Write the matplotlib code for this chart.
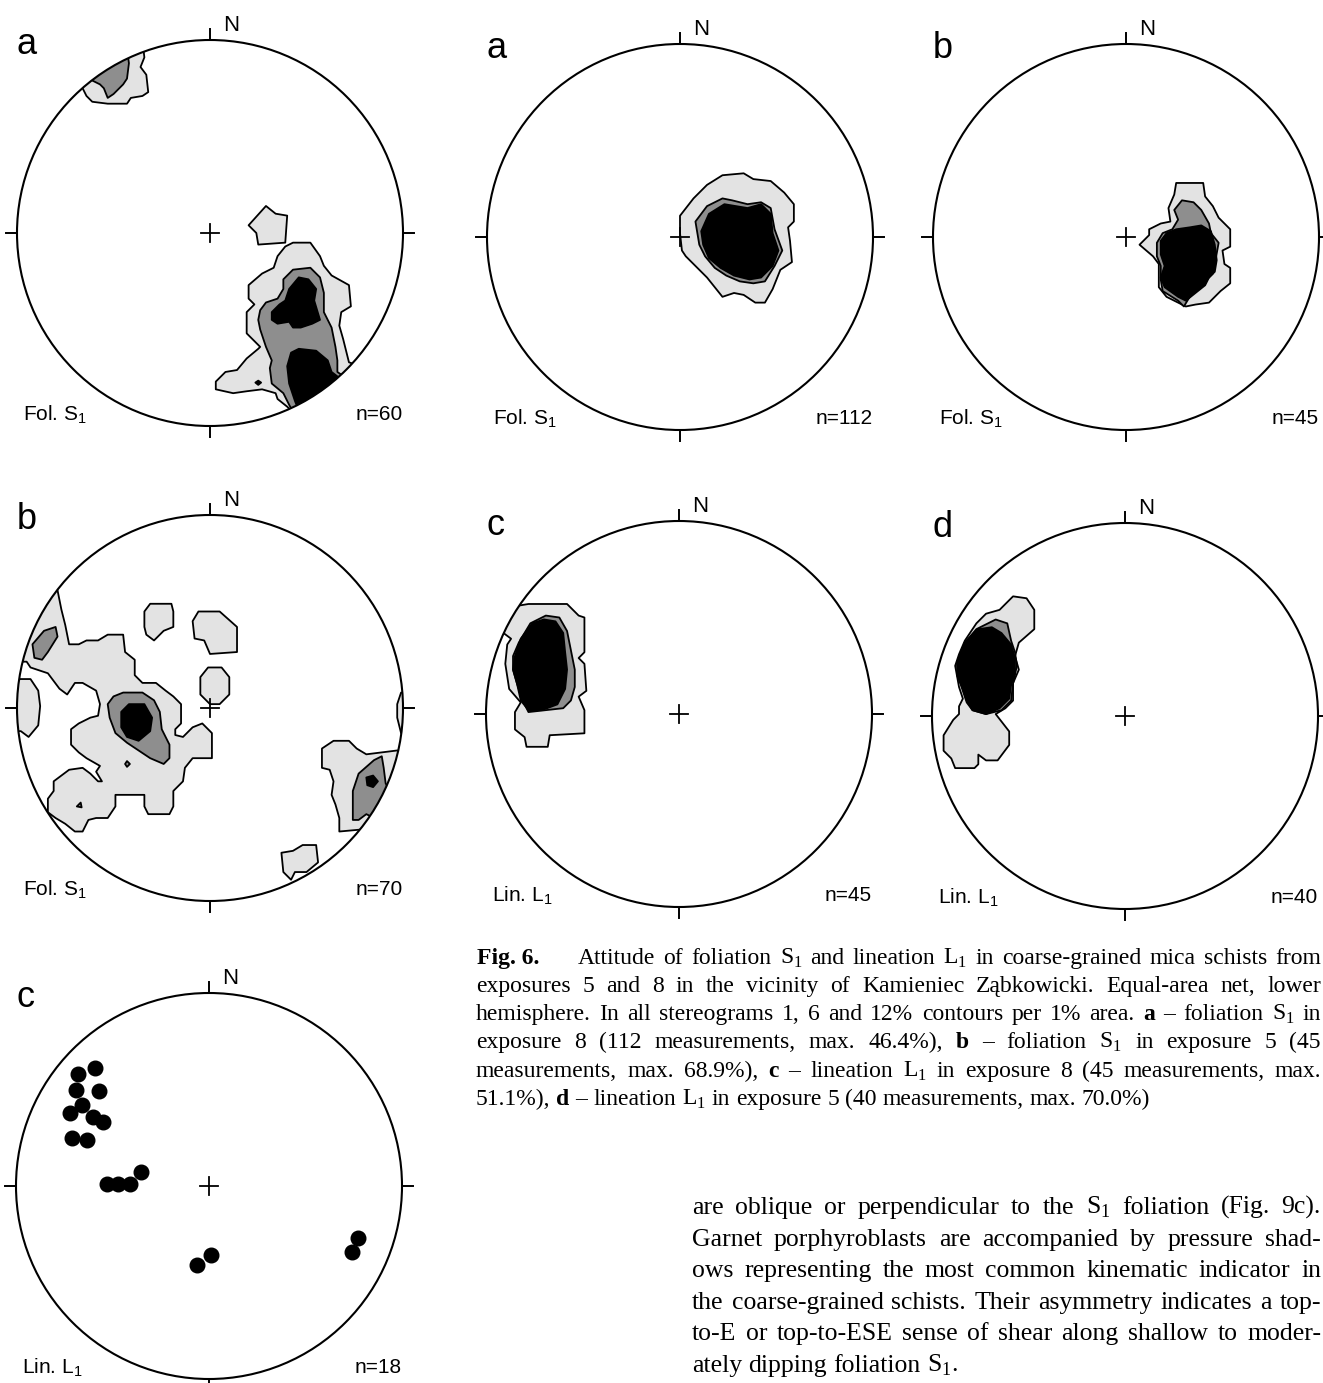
import matplotlib
matplotlib.use("Agg")
import matplotlib.pyplot as plt
from matplotlib.patches import Polygon, Circle

plt.rcParams['font.family'] = ['Liberation Sans', 'DejaVu Sans']
plt.rcParams['mathtext.fontset'] = 'custom'
plt.rcParams['mathtext.rm'] = 'Liberation Serif'
plt.rcParams['mathtext.sf'] = 'Liberation Sans'
plt.rcParams['mathtext.bf'] = 'Liberation Serif:bold'

# ---------------- data (equal-area net coordinates, unit radius; x = East, y = North) -------------
PANEL_LETTERS = ['a', 'a', 'b', 'b', 'c', 'd', 'c']
PANEL_TYPES = ['Fol. S', 'Fol. S', 'Fol. S', 'Fol. S', 'Lin. L', 'Lin. L', 'Lin. L']
PANEL_N = [60, 112, 45, 70, 45, 40, 18]

# Net 1 (Fol. S1, n=60)
N1_LIGHT = [
    [(-0.66, 0.75), (-0.64, 0.71), (-0.61, 0.68), (-0.53, 0.67), (-0.43, 0.67), (-0.41, 0.70), (-0.35, 0.71),
     (-0.32, 0.73), (-0.33, 0.82), (-0.36, 0.86), (-0.34, 0.91), (-0.36, 1.08), (-0.78, 0.86)],
    [(0.20, 0.04), (0.29, 0.14), (0.34, 0.10), (0.40, 0.09), (0.39, -0.05), (0.25, -0.06), (0.24, 0.00)],
    [(0.35, -0.12), (0.39, -0.07), (0.43, -0.05), (0.52, -0.05), (0.57, -0.12), (0.59, -0.17), (0.63, -0.22),
     (0.72, -0.27), (0.73, -0.38), (0.68, -0.41), (0.67, -0.48), (0.69, -0.55), (0.72, -0.67), (0.95, -0.75),
     (0.55, -1.05), (0.40, -0.90), (0.35, -0.86), (0.34, -0.83), (0.27, -0.81), (0.19, -0.82), (0.12, -0.83),
     (0.03, -0.81), (0.03, -0.77), (0.08, -0.72), (0.14, -0.71), (0.19, -0.65), (0.25, -0.60), (0.26, -0.59),
     (0.19, -0.52), (0.19, -0.41), (0.23, -0.37), (0.20, -0.34), (0.20, -0.27), (0.27, -0.21), (0.33, -0.18)],
]
N1_MID = [
    [(-0.61, 0.79), (-0.57, 0.77), (-0.55, 0.75), (-0.53, 0.70), (-0.50, 0.72), (-0.45, 0.77), (-0.43, 0.80),
     (-0.42, 0.88), (-0.44, 1.02), (-0.74, 0.86)],
    [(0.38, -0.24), (0.43, -0.19), (0.52, -0.18), (0.57, -0.23), (0.59, -0.31), (0.59, -0.41), (0.63, -0.49),
     (0.65, -0.59), (0.66, -0.66), (0.66, -0.72), (0.85, -0.85), (0.50, -1.05), (0.41, -0.89), (0.38, -0.83),
     (0.32, -0.78), (0.31, -0.70), (0.32, -0.66), (0.29, -0.59), (0.26, -0.50), (0.25, -0.45), (0.26, -0.40),
     (0.29, -0.36), (0.35, -0.34), (0.38, -0.29)],
]
N1_DARK = [
    [(0.41, -0.29), (0.46, -0.23), (0.51, -0.24), (0.55, -0.29), (0.54, -0.35), (0.57, -0.45), (0.53, -0.47),
     (0.47, -0.49), (0.43, -0.49), (0.41, -0.46), (0.35, -0.47), (0.32, -0.45), (0.32, -0.41), (0.36, -0.37),
     (0.39, -0.35)],
    [(0.42, -0.62), (0.46, -0.60), (0.55, -0.61), (0.61, -0.66), (0.63, -0.72), (0.80, -0.85), (0.50, -1.02),
     (0.44, -0.87), (0.41, -0.78), (0.40, -0.69)],
    [(0.235, -0.775), (0.25, -0.765), (0.265, -0.775), (0.25, -0.787)],
]

# Net 2 (Fol. S1, n=112)
N2_LIGHT = [
    [(0.00, 0.11), (0.07, 0.20), (0.14, 0.27), (0.22, 0.32), (0.33, 0.33), (0.38, 0.30), (0.47, 0.29),
     (0.54, 0.23), (0.59, 0.17), (0.59, 0.08), (0.56, 0.05), (0.57, -0.02), (0.58, -0.13), (0.52, -0.17),
     (0.48, -0.27), (0.44, -0.34), (0.39, -0.34), (0.33, -0.30), (0.28, -0.29), (0.22, -0.31), (0.14, -0.21),
     (0.09, -0.16), (0.03, -0.10), (0.01, -0.07), (0.00, 0.02)],
]
N2_MID = [
    [(0.08, 0.08), (0.14, 0.16), (0.22, 0.20), (0.27, 0.19), (0.35, 0.17), (0.42, 0.18), (0.47, 0.15),
     (0.49, 0.04), (0.53, -0.07), (0.49, -0.15), (0.44, -0.23), (0.38, -0.24), (0.31, -0.23), (0.24, -0.20),
     (0.18, -0.16), (0.13, -0.10), (0.10, -0.04), (0.09, 0.02)],
]
N2_DARK = [
    [(0.15, 0.12), (0.23, 0.17), (0.35, 0.15), (0.42, 0.17), (0.47, 0.12), (0.48, 0.02), (0.51, -0.07),
     (0.48, -0.15), (0.42, -0.21), (0.36, -0.22), (0.28, -0.20), (0.21, -0.16), (0.15, -0.11), (0.12, -0.04),
     (0.11, 0.03)],
]

# Net 3 (Fol. S1, n=45)
N3_LIGHT = [
    [(0.07, -0.04), (0.12, 0.01), (0.12, 0.04), (0.18, 0.07), (0.23, 0.08), (0.22, 0.15), (0.25, 0.22),
     (0.26, 0.28), (0.40, 0.28), (0.41, 0.21), (0.45, 0.16), (0.48, 0.10), (0.54, 0.04), (0.54, -0.05),
     (0.50, -0.07), (0.51, -0.14), (0.54, -0.16), (0.54, -0.24), (0.49, -0.28), (0.43, -0.34), (0.36, -0.35),
     (0.31, -0.36), (0.21, -0.31), (0.17, -0.26), (0.17, -0.14), (0.14, -0.10)],
]
N3_MID = [
    [(0.25, 0.14), (0.29, 0.19), (0.35, 0.18), (0.39, 0.14), (0.43, 0.07), (0.44, 0.02), (0.48, -0.03),
     (0.46, -0.14), (0.45, -0.19), (0.38, -0.26), (0.33, -0.31), (0.30, -0.36), (0.27, -0.33), (0.19, -0.28),
     (0.18, -0.22), (0.18, -0.15), (0.16, -0.10), (0.16, -0.03), (0.19, 0.02), (0.24, 0.04), (0.27, 0.09)],
]
N3_DARK = [
    [(0.18, -0.02), (0.21, 0.02), (0.26, 0.04), (0.33, 0.05), (0.39, 0.06), (0.44, 0.03), (0.46, -0.04),
     (0.47, -0.12), (0.46, -0.18), (0.43, -0.21), (0.41, -0.25), (0.36, -0.29), (0.31, -0.33), (0.27, -0.31),
     (0.20, -0.26), (0.18, -0.21), (0.20, -0.15), (0.18, -0.09)],
]

# Net 4 (Fol. S1, n=70)
N4_LIGHT = [
    [(-0.79, 0.61), (-0.77, 0.51), (-0.75, 0.43), (-0.73, 0.33), (-0.68, 0.33), (-0.64, 0.35), (-0.58, 0.35),
     (-0.53, 0.38), (-0.45, 0.38), (-0.44, 0.29), (-0.39, 0.25), (-0.39, 0.17), (-0.35, 0.13), (-0.28, 0.13),
     (-0.23, 0.09), (-0.19, 0.06), (-0.15, 0.02), (-0.15, -0.08), (-0.18, -0.11), (-0.18, -0.14), (-0.14, -0.15),
     (-0.09, -0.10), (-0.04, -0.08), (0.01, -0.13), (0.01, -0.26), (-0.09, -0.26), (-0.13, -0.31), (-0.14, -0.38),
     (-0.19, -0.43), (-0.19, -0.51), (-0.21, -0.55), (-0.32, -0.55), (-0.34, -0.51), (-0.34, -0.45), (-0.40, -0.45),
     (-0.49, -0.45), (-0.49, -0.51), (-0.53, -0.57), (-0.59, -0.57), (-0.63, -0.58), (-0.66, -0.64), (-0.70, -0.64),
     (-0.75, -0.60), (-0.80, -0.57), (-0.84, -0.54), (-0.84, -0.47), (-0.81, -0.43), (-0.81, -0.38), (-0.73, -0.32),
     (-0.66, -0.31), (-0.62, -0.34), (-0.58, -0.38), (-0.56, -0.38), (-0.59, -0.33), (-0.57, -0.30), (-0.64, -0.26),
     (-0.68, -0.23), (-0.72, -0.19), (-0.72, -0.11), (-0.68, -0.08), (-0.62, -0.05), (-0.58, -0.04), (-0.57, 0.02),
     (-0.59, 0.09), (-0.66, 0.13), (-0.70, 0.13), (-0.74, 0.07), (-0.78, 0.10), (-0.84, 0.18), (-0.87, 0.19),
     (-0.93, 0.21), (-0.95, 0.24), (-1.10, 0.24), (-1.05, 0.70), (-0.85, 0.68)],
    [(-0.97, 0.15), (-0.93, 0.15), (-0.89, 0.09), (-0.88, 0.01), (-0.89, -0.09), (-0.94, -0.15), (-0.98, -0.12),
     (-1.10, -0.12), (-1.10, 0.15)],
    [(-0.34, 0.50), (-0.31, 0.54), (-0.20, 0.54), (-0.19, 0.50), (-0.19, 0.42), (-0.24, 0.40), (-0.29, 0.35),
     (-0.33, 0.38), (-0.34, 0.42)],
    [(-0.09, 0.45), (-0.06, 0.50), (0.05, 0.50), (0.14, 0.42), (0.14, 0.29), (0.00, 0.28), (-0.03, 0.35),
     (-0.08, 0.36)],
    [(-0.05, 0.16), (-0.01, 0.21), (0.06, 0.21), (0.10, 0.16), (0.10, 0.07), (0.05, 0.02), (0.00, 0.02),
     (-0.05, 0.07)],
    [(0.58, -0.21), (0.64, -0.17), (0.72, -0.17), (0.76, -0.21), (0.81, -0.24), (0.97, -0.22), (1.15, -0.25),
     (1.00, -0.80), (0.78, -0.63), (0.67, -0.64), (0.67, -0.57), (0.65, -0.50), (0.63, -0.45), (0.64, -0.38),
     (0.62, -0.32), (0.58, -0.31)],
    [(0.37, -0.75), (0.43, -0.74), (0.48, -0.71), (0.55, -0.71), (0.56, -0.80), (0.50, -0.85), (0.44, -0.85),
     (0.42, -0.89), (0.38, -0.85)],
    [(0.99, 0.08), (0.97, 0.02), (0.97, -0.05), (0.99, -0.13), (1.10, -0.13), (1.10, 0.08)],
]
N4_MID = [
    [(-0.92, 0.33), (-0.86, 0.40), (-0.80, 0.42), (-0.79, 0.37), (-0.84, 0.29), (-0.87, 0.25), (-0.91, 0.26)],
    [(-0.53, 0.02), (-0.50, 0.06), (-0.45, 0.08), (-0.35, 0.08), (-0.29, 0.04), (-0.26, -0.02), (-0.25, -0.11),
     (-0.21, -0.19), (-0.21, -0.26), (-0.24, -0.29), (-0.31, -0.26), (-0.37, -0.22), (-0.43, -0.18), (-0.49, -0.13),
     (-0.52, -0.05)],
    [(-0.44, -0.29), (-0.43, -0.275), (-0.415, -0.29), (-0.43, -0.305)],
    [(-0.69, -0.51), (-0.67, -0.49), (-0.665, -0.515)],
    [(0.74, -0.51), (0.74, -0.43), (0.77, -0.34), (0.85, -0.27), (0.89, -0.25), (0.90, -0.31), (0.91, -0.39),
     (0.93, -0.43), (1.05, -0.45), (0.95, -0.62), (0.81, -0.55), (0.77, -0.58), (0.74, -0.58)],
]
N4_DARK = [
    [(-0.46, -0.02), (-0.42, 0.02), (-0.34, 0.02), (-0.30, -0.05), (-0.31, -0.12), (-0.37, -0.17), (-0.43, -0.15),
     (-0.46, -0.10)],
    [(0.81, -0.36), (0.845, -0.35), (0.87, -0.38), (0.845, -0.41), (0.815, -0.40)],
]

# Net 5 (Lin. L1, n=45)
N5_LIGHT = [
    [(-0.84, 0.56), (-0.78, 0.57), (-0.58, 0.57), (-0.52, 0.51), (-0.49, 0.50), (-0.49, 0.32), (-0.52, 0.29),
     (-0.49, 0.26), (-0.48, 0.12), (-0.52, 0.09), (-0.49, 0.02), (-0.49, -0.10), (-0.67, -0.11), (-0.68, -0.17),
     (-0.79, -0.17), (-0.80, -0.12), (-0.85, -0.08), (-0.85, 0.01), (-0.82, 0.06), (-0.88, 0.13), (-0.90, 0.26),
     (-0.89, 0.36), (-0.87, 0.39), (-0.91, 0.42), (-1.05, 0.45), (-0.95, 0.65)],
]
N5_MID = [
    [(-0.86, 0.30), (-0.83, 0.37), (-0.77, 0.47), (-0.69, 0.51), (-0.62, 0.50), (-0.58, 0.43), (-0.56, 0.33),
     (-0.54, 0.23), (-0.54, 0.14), (-0.56, 0.07), (-0.60, 0.03), (-0.69, 0.02), (-0.78, 0.01), (-0.81, 0.07),
     (-0.84, 0.16), (-0.86, 0.23)],
]
N5_DARK = [
    [(-0.85, 0.30), (-0.82, 0.39), (-0.76, 0.47), (-0.70, 0.49), (-0.64, 0.48), (-0.60, 0.42), (-0.59, 0.32),
     (-0.58, 0.23), (-0.59, 0.13), (-0.63, 0.05), (-0.71, 0.02), (-0.78, 0.02), (-0.82, 0.07), (-0.84, 0.16),
     (-0.86, 0.23)],
]

# Net 6 (Lin. L1, n=40)
N6_LIGHT = [
    [(-0.77, 0.48), (-0.72, 0.53), (-0.65, 0.55), (-0.58, 0.62), (-0.51, 0.61), (-0.47, 0.55), (-0.47, 0.45),
     (-0.55, 0.38), (-0.57, 0.31), (-0.55, 0.24), (-0.58, 0.17), (-0.58, 0.08), (-0.62, 0.04), (-0.67, 0.01),
     (-0.60, -0.08), (-0.60, -0.15), (-0.66, -0.23), (-0.72, -0.23), (-0.76, -0.20), (-0.76, -0.25), (-0.78, -0.27),
     (-0.88, -0.27), (-0.90, -0.22), (-0.94, -0.18), (-0.94, -0.10), (-0.89, -0.02), (-0.86, 0.01), (-0.86, 0.05),
     (-0.84, 0.09), (-0.86, 0.15), (-0.88, 0.26), (-0.86, 0.32), (-0.83, 0.39)],
]
N6_MID = [
    [(-0.87, 0.28), (-0.83, 0.38), (-0.77, 0.45), (-0.67, 0.50), (-0.61, 0.48), (-0.59, 0.39), (-0.57, 0.33),
     (-0.56, 0.26), (-0.58, 0.17), (-0.59, 0.08), (-0.64, 0.03), (-0.72, 0.01), (-0.79, 0.03), (-0.82, 0.07),
     (-0.84, 0.13), (-0.86, 0.19)],
]
N6_DARK = [
    [(-0.87, 0.27), (-0.83, 0.38), (-0.76, 0.45), (-0.69, 0.46), (-0.64, 0.43), (-0.59, 0.37), (-0.57, 0.30),
     (-0.57, 0.22), (-0.59, 0.16), (-0.60, 0.09), (-0.65, 0.04), (-0.72, 0.01), (-0.79, 0.03), (-0.82, 0.08),
     (-0.84, 0.14), (-0.87, 0.21)],
]

# Net 7 (Lin. L1, n=18): individual lineations
N7_EAST = [-0.68, -0.59, -0.69, -0.57, -0.66, -0.72, -0.60, -0.55, -0.71, -0.63,
           -0.53, -0.47, -0.41, -0.35, -0.06, 0.01, 0.77, 0.74]
N7_NORTH = [0.58, 0.61, 0.50, 0.49, 0.42, 0.38, 0.36, 0.33, 0.25, 0.24,
            0.01, 0.01, 0.01, 0.07, -0.41, -0.36, -0.27, -0.34]

CAPTION_HEAD = "Fig. 6."
CAPTION_LINES = [
    "Attitude of foliation S$_1$ and lineation L$_1$ in coarse-grained mica schists from",
    "exposures 5 and 8 in the vicinity of Kamieniec Ząbkowicki. Equal-area net, lower",
    "hemisphere. In all stereograms 1, 6 and 12% contours per 1% area. **a** – foliation S$_1$ in",
    "exposure 8 (112 measurements, max. 46.4%), **b** – foliation S$_1$ in exposure 5 (45",
    "measurements, max. 68.9%), **c** – lineation L$_1$ in exposure 8 (45 measurements, max.",
    "51.1%), **d** – lineation L$_1$ in exposure 5 (40 measurements, max. 70.0%)",
]
BODY_LINES = [
    "are oblique or perpendicular to the S$_1$ foliation (Fig. 9c).",
    "Garnet porphyroblasts are accompanied by pressure shad-",
    "ows representing the most common kinematic indicator in",
    "the coarse-grained schists. Their asymmetry indicates a top-",
    "to-E or top-to-ESE sense of shear along shallow to moder-",
    "ately dipping foliation S$_1$.",
]

# ---------------- layout ----------------
W, H = 1323, 1383
fig = plt.figure(figsize=(W / 100, H / 100), dpi=100)
fig.patch.set_facecolor('white')

NETS = [
    dict(c=(210, 233), light=N1_LIGHT, mid=N1_MID, dark=N1_DARK),
    dict(c=(680, 237), light=N2_LIGHT, mid=N2_MID, dark=N2_DARK),
    dict(c=(1126, 237), light=N3_LIGHT, mid=N3_MID, dark=N3_DARK),
    dict(c=(210, 708), light=N4_LIGHT, mid=N4_MID, dark=N4_DARK),
    dict(c=(679, 714), light=N5_LIGHT, mid=N5_MID, dark=N5_DARK),
    dict(c=(1125, 716), light=N6_LIGHT, mid=N6_MID, dark=N6_DARK),
    dict(c=(209, 1186), light=[], mid=[], dark=[]),
]
R = 193
PAD = 1.25
LIGHT_C = '#e3e3e3'
MID_C = '#8e8e8e'

for i, net in enumerate(NETS):
    cx, cy = net['c']
    s = PAD * R
    ax = fig.add_axes([(cx - s) / W, (H - cy - s) / H, 2 * s / W, 2 * s / H])
    ax.set_xlim(-PAD, PAD)
    ax.set_ylim(-PAD, PAD)
    ax.axis('off')
    ax.patch.set_visible(False)
    clip = Circle((0, 0), 1.0, transform=ax.transData)
    for level, fc, z in ((net['light'], LIGHT_C, 2), (net['mid'], MID_C, 3), (net['dark'], 'black', 4)):
        for poly in level:
            p = Polygon(poly, closed=True, facecolor=fc, edgecolor='black', lw=1.3, zorder=z,
                        joinstyle='round')
            ax.add_patch(p)
            p.set_clip_path(clip)
    if i == 6:
        ax.plot(N7_EAST, N7_NORTH, 'o', color='black', ms=10.5, mec='black', zorder=5)
    ax.add_patch(Circle((0, 0), 1.0, fill=False, ec='black', lw=1.5, zorder=6))
    t = 0.055
    ax.plot([0, 0], [1, 1 + t], color='black', lw=1.4, zorder=6)
    ax.plot([0, 0], [-1, -1 - t], color='black', lw=1.4, zorder=6)
    ax.plot([1, 1 + t], [0, 0], color='black', lw=1.4, zorder=6)
    ax.plot([-1, -1 - t], [0, 0], color='black', lw=1.4, zorder=6)
    c = 0.045
    ax.plot([-c, c], [0, 0], color='black', lw=1.3, zorder=7)
    ax.plot([0, 0], [-c, c], color='black', lw=1.3, zorder=7)
    ax.text(-1.0, 0.93, PANEL_LETTERS[i], fontsize=26, ha='left', va='baseline', family='Liberation Sans')
    ax.text(0.067, 1.045, 'N', fontsize=16, ha='left', va='baseline', family='Liberation Sans')
    ax.text(-0.97, -0.97, PANEL_TYPES[i] + r'$_\mathsf{1}$', fontsize=15, ha='left', va='baseline',
            family='Liberation Sans')
    ax.text(1.0, -0.97, 'n=%d' % PANEL_N[i], fontsize=15, ha='right', va='baseline', family='Liberation Sans')

# ---------------- justified text ----------------
renderer = fig.canvas.get_renderer()


def place_line(line, x0, x1, y, size, justify):
    words = line.split(' ')
    while True:
        texts = []
        for w in words:
            bold = w.startswith('**')
            w2 = w.replace('**', '')
            tx = fig.text(0, 0, w2, fontsize=size, family='Liberation Serif',
                          weight='bold' if bold else 'normal', ha='left', va='baseline')
            texts.append(tx)
        widths = [tx.get_window_extent(renderer).width for tx in texts]
        space = 0.25 * size * 100 / 72
        natural = sum(widths) + space * 0.8 * (len(words) - 1)
        if natural <= (x1 - x0) or size < 10:
            break
        for tx in texts:
            tx.remove()
        size -= 0.25
    if justify and len(words) > 1:
        gap = (x1 - x0 - sum(widths)) / (len(words) - 1)
    else:
        gap = space
    x = x0
    for tx, wd in zip(texts, widths):
        tx.set_position((x / W, 1 - y / H))
        x += wd + gap


CAP_SIZE = 17
fig.text(477 / W, 1 - 964 / H, CAPTION_HEAD, fontsize=CAP_SIZE, family='Liberation Serif', weight='bold',
         ha='left', va='baseline')
cap_base = [964, 992, 1020, 1048, 1077, 1105]
for k, line in enumerate(CAPTION_LINES):
    x0 = 578 if k == 0 else 476
    place_line(line, x0, 1321, cap_base[k], CAP_SIZE, justify=(k < len(CAPTION_LINES) - 1))

BODY_SIZE = 18.5
body_base = [1214, 1246, 1277, 1309, 1340, 1372]
for k, line in enumerate(BODY_LINES):
    place_line(line, 692, 1321, body_base[k], BODY_SIZE, justify=(k < len(BODY_LINES) - 1))

fig.savefig('out.png', dpi=100)
